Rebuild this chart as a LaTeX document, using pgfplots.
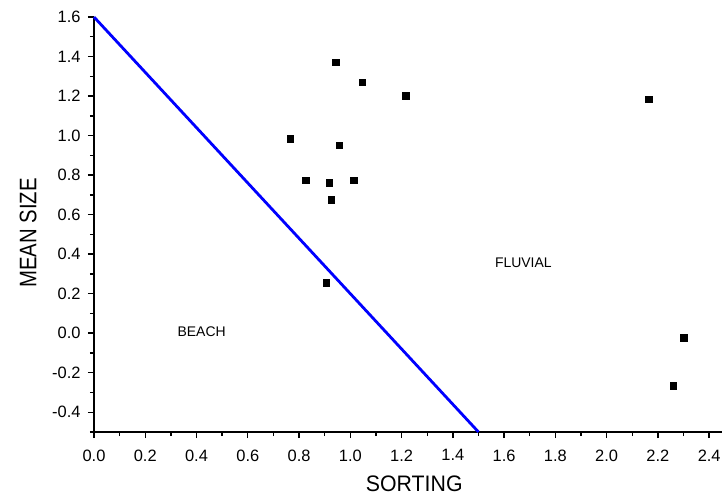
\documentclass[border=0pt]{standalone}
\usepackage{fontspec}
\setmainfont{Liberation Sans}
\newfontfamily\xlabfont[FakeStretch=0.95]{Liberation Sans}
\newfontfamily\ylabfont[FakeStretch=0.85]{Liberation Sans}
\usepackage{pgfplots}
\pgfplotsset{compat=1.18}
\definecolor{lineblue}{RGB}{0,0,255}

\begin{document}
\begin{tikzpicture}
\begin{axis}[
  scale only axis, width=628bp, height=415bp,
  xmin=0, xmax=2.45, ymin=-0.5, ymax=1.6,
  axis lines*=left, axis line style={line width=1.8bp},
  tick align=outside, tick style={black, line width=1.4bp},
  major tick length=6bp, minor tick length=4bp,
  xtick={0,0.2,...,2.41}, minor xtick={0.1,0.3,...,2.41},
  ytick={-0.4,-0.2,...,1.61}, minor ytick={-0.5,-0.3,...,1.51},
  /pgf/number format/.cd, fixed, fixed zerofill, precision=1, assume math mode=true,
  /pgfplots/.cd,
  tick label style={font=\fontsize{16.5}{18}\selectfont},
  xticklabel style={yshift=-8bp},
  yticklabel style={xshift=-4bp},
  xlabel={SORTING}, ylabel={MEAN SIZE},
  xlabel style={font=\xlabfont\fontsize{22.5}{25}\selectfont, inner sep=0pt, at={(axis description cs:0.51,-0.125)}, anchor=center},
  ylabel style={font=\ylabfont\fontsize{24}{26}\selectfont, inner sep=0pt, at={(axis description cs:-0.105,0.48)}, anchor=center},
  clip=false,
]
\addplot[color=lineblue, line width=2.8bp] coordinates {(0,1.6) (1.5,-0.5)};
\addplot[only marks, mark=square*, mark size=3.3bp, black] coordinates {
(0.944,1.372) (1.046,1.271) (1.215,1.202) (0.766,0.983) (0.956,0.952)
(0.826,0.774) (0.917,0.763) (1.014,0.774) (0.926,0.674) (0.906,0.255)
(2.163,1.185) (2.30,-0.024) (2.26,-0.265)
};
\node[font=\fontsize{14}{16}\selectfont] at (axis cs:0.42,0.01) {BEACH};
\node[font=\fontsize{14}{16}\selectfont] at (axis cs:1.675,0.356) {FLUVIAL};
\end{axis}
\pgfresetboundingbox
\useasboundingbox (current axis.south west) ++(-94bp,-65bp) rectangle ([shift={(3bp,17bp)}]current axis.north east);
\end{tikzpicture}
\end{document}
